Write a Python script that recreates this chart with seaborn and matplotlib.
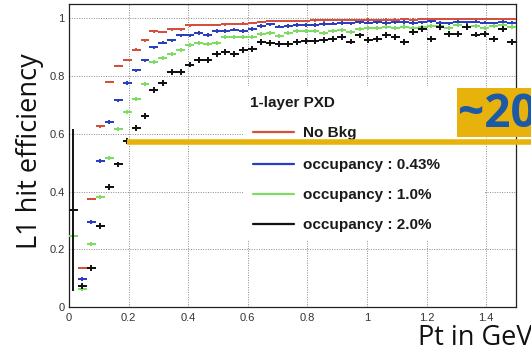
import numpy as np
import pandas as pd
import matplotlib
matplotlib.use("Agg")
import matplotlib.pyplot as plt
from matplotlib.lines import Line2D
from matplotlib.patches import Rectangle
import seaborn as sns

# ---------------- data ----------------
pt_bins = [round(0.015 + 0.03 * i, 3) for i in range(50)]

eff_nobkg = [np.nan, 0.136, 0.374, 0.626, 0.779, 0.835, 0.855, 0.892, 0.924, 0.955,
             0.952, 0.962, 0.962, 0.976, 0.977, 0.978, 0.978, 0.979, 0.980, 0.982,
             0.985, 0.988, 0.990, 0.990, 0.991, 0.992, 0.992, 0.993, 0.993, 0.994,
             0.994, 0.995, 0.995, 0.996, 0.995, 0.996, 0.996, 0.997, 0.996, 0.997,
             0.998, 0.998, 0.999, 0.998, 0.997, 0.998, 0.997, 0.998, 0.997, 0.997]
eff_occ043 = [np.nan, 0.097, 0.295, 0.506, 0.641, 0.716, 0.776, 0.820, 0.855, 0.900,
              0.916, 0.924, 0.941, 0.941, 0.950, 0.943, 0.956, 0.956, 0.961, 0.956,
              0.964, 0.973, 0.979, 0.972, 0.973, 0.977, 0.977, 0.978, 0.980, 0.982,
              0.984, 0.983, 0.986, 0.985, 0.986, 0.984, 0.986, 0.988, 0.984, 0.986,
              0.990, 0.985, 0.983, 0.987, 0.986, 0.989, 0.985, 0.983, 0.988, 0.985]
eff_occ10 = [0.245, 0.062, 0.218, 0.380, 0.517, 0.618, 0.676, 0.722, 0.774, 0.848,
             0.864, 0.878, 0.889, 0.907, 0.915, 0.912, 0.915, 0.935, 0.935, 0.935,
             0.935, 0.945, 0.950, 0.938, 0.950, 0.958, 0.955, 0.958, 0.950, 0.958,
             0.960, 0.953, 0.965, 0.968, 0.966, 0.970, 0.968, 0.972, 0.966, 0.970,
             0.974, 0.975, 0.968, 0.976, 0.972, 0.975, 0.968, 0.973, 0.976, 0.972]
eff_occ20 = [0.336, 0.073, 0.136, 0.280, 0.416, 0.494, 0.574, 0.620, 0.662, 0.753,
             0.776, 0.814, 0.814, 0.840, 0.855, 0.855, 0.878, 0.883, 0.878, 0.890,
             0.895, 0.918, 0.915, 0.912, 0.912, 0.918, 0.922, 0.922, 0.924, 0.930,
             0.935, 0.920, 0.941, 0.926, 0.930, 0.943, 0.935, 0.918, 0.953, 0.964,
             0.930, 0.970, 0.947, 0.947, 0.970, 0.944, 0.947, 0.930, 0.964, 0.918]

series_labels = ["No Bkg", "occupancy : 0.43%", "occupancy : 1.0%", "occupancy : 2.0%"]
series_values = [eff_nobkg, eff_occ043, eff_occ10, eff_occ20]
series_yerr = [0.004, 0.006, 0.007, 0.010]
first_bin_yerr_occ20 = 0.28

x_ticks = [0, 0.2, 0.4, 0.6, 0.8, 1.0, 1.2, 1.4]
x_tick_labels = ["0", "0.2", "0.4", "0.6", "0.8", "1", "1.2", "1.4"]
y_ticks = [0, 0.2, 0.4, 0.6, 0.8, 1.0]
y_tick_labels = ["0", "0.2", "0.4", "0.6", "0.8", "1"]

legend_title = "1-layer PXD"
y_label = "L1 hit efficiency"
x_label = "Pt in GeV"
badge_text = "~20"

colors = ["#d5503c", "#2a3fc0", "#7fdc62", "#111111"]
bin_half_width = 0.015

# ---------------- figure ----------------
sns.set_style("white")
W, H = 531, 351
fig = plt.figure(figsize=(W / 100, H / 100), dpi=100)
fig.patch.set_facecolor("white")

def fx(px):
    return px / W

def fy(py):
    return 1 - py / H

ax = fig.add_axes([fx(69), fy(307), fx(516) - fx(69), fy(4) - fy(307)])
ax.set_xlim(0, 1.5)
ax.set_ylim(0, 1.05)

df = pd.DataFrame({
    "pt": np.tile(pt_bins, len(series_labels)),
    "eff": np.concatenate([np.asarray(v, dtype=float) for v in series_values]),
    "series": np.repeat(series_labels, len(pt_bins)),
})

# grid
for xt in x_ticks[1:]:
    ax.axvline(xt, color="#8a8a8a", lw=0.7, ls=(0, (1, 1.5)), zorder=0)
for yt in y_ticks[1:]:
    ax.axhline(yt, color="#8a8a8a", lw=0.7, ls=(0, (1, 1.5)), zorder=0)

# ROOT-style "+" markers: horizontal bin width + vertical errors
for i, (lab, col) in enumerate(zip(series_labels, colors)):
    sub = df[df["series"] == lab]
    yerr = np.full(len(sub), series_yerr[i])
    if i == 3:
        yerr[0] = first_bin_yerr_occ20
    ax.errorbar(sub["pt"], sub["eff"], xerr=bin_half_width, yerr=yerr,
                fmt="none", ecolor=col, elinewidth=1.4, capsize=0, zorder=3 + i)

sns.scatterplot(data=df, x="pt", y="eff", hue="series", palette=colors,
                hue_order=series_labels, marker="_", s=40, linewidth=1.4,
                legend=False, ax=ax, zorder=3)

# axes styling
for sp in ax.spines.values():
    sp.set_color("#222222")
    sp.set_linewidth(0.9)
ax.set_xticks(x_ticks)
ax.set_xticklabels(x_tick_labels)
ax.set_yticks(y_ticks)
ax.set_yticklabels(y_tick_labels)
ax.set_xticks(np.arange(0.05, 1.5, 0.05), minor=True)
ax.set_yticks(np.arange(0.05, 1.05, 0.05), minor=True)
ax.tick_params(axis="x", which="major", direction="in", length=6.5, width=0.9,
               labelsize=8, labelcolor="#333333", pad=4, colors="#222222")
ax.tick_params(axis="x", which="minor", direction="in", length=3.5, width=0.8, colors="#222222")
ax.tick_params(axis="y", which="major", direction="in", length=9, width=0.9,
               labelsize=8, labelcolor="#333333", pad=3, colors="#222222")
ax.tick_params(axis="y", which="minor", direction="in", length=4.5, width=0.8, colors="#222222")
for lbl in ax.get_xticklabels() + ax.get_yticklabels():
    lbl.set_fontfamily("Liberation Sans")
    lbl.set_color("#333333")
ax.set_xlabel("")
ax.set_ylabel("")

# legend (ROOT TLegend, borderless white box)
leg_box = Rectangle((fx(243), fy(240)), fx(484) - fx(243), fy(86) - fy(240),
                    transform=fig.transFigure, facecolor="white", edgecolor="none",
                    zorder=10)
fig.add_artist(leg_box)
fig.text(fx(250), fy(103), legend_title, fontsize=11, fontweight="bold",
         family="Liberation Sans", color="#1a1a1a", va="center", ha="left", zorder=11)
row_y = [132, 164, 194, 224]
for lab, col, ry in zip(series_labels, colors, row_y):
    fig.add_artist(Line2D([fx(253), fx(294)], [fy(ry), fy(ry)], color=col, lw=1.6,
                          transform=fig.transFigure, zorder=11))
    fig.text(fx(303), fy(ry + 1), lab, fontsize=11, fontweight="bold",
             family="Liberation Sans", color="#1a1a1a", va="center", ha="left", zorder=11)

# slide overlays
yellow = "#e8b20c"
fig.add_artist(Rectangle((fx(457), fy(137)), fx(531) - fx(457), fy(88) - fy(137),
                         transform=fig.transFigure, facecolor=yellow, edgecolor="none",
                         zorder=20))
fig.text(fx(458), fy(127), badge_text, fontsize=33, fontweight="bold",
         family="Open Sans", color="#1d5aa6", va="baseline", ha="left", zorder=21)
fig.add_artist(Line2D([fx(127), fx(531)], [fy(142), fy(142)], color=yellow, lw=4,
                      transform=fig.transFigure, zorder=20, solid_capstyle="butt"))

fig.text(fx(30), fy(151), y_label, fontsize=19.5, family="Open Sans", color="#111111",
         rotation=90, va="center", ha="center")
fig.text(fx(418), fy(345), x_label, fontsize=19.5, family="Open Sans", color="#111111",
         va="baseline", ha="left")

fig.savefig("out.png", dpi=100, facecolor="white")
